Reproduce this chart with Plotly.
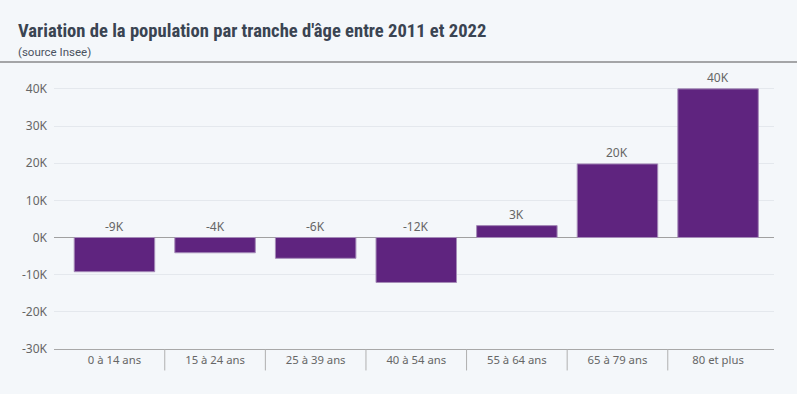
import plotly.graph_objects as go

categories = ["0 à 14 ans", "15 à 24 ans", "25 à 39 ans", "40 à 54 ans",
              "55 à 64 ans", "65 à 79 ans", "80 et plus"]
values = [-9200, -4100, -5600, -12100, 3200, 19800, 40000]
y_tickvals = [-30000, -20000, -10000, 0, 10000, 20000, 30000, 40000]
y_ticktext = ["-30K", "-20K", "-10K", "0K", "10K", "20K", "30K", "40K"]

BG = "#f4f7fa"
BAR = "#5f247f"
TXT = "#666666"
FONT = "Noto Sans"

fig = go.Figure()
fig.add_trace(go.Bar(
    x=list(range(len(categories))), y=values, width=0.8,
    marker=dict(color=BAR, line=dict(color="#a58bb8", width=1)),
    hoverinfo="skip",
))

for i, v in enumerate(values):
    fig.add_annotation(
        x=i, y=max(v, 0), xref="x", yref="y",
        text=f"{round(v/1000):d}K", showarrow=False,
        yanchor="bottom", yshift=1,
        font=dict(family=FONT, size=12, color=TXT),
    )

for i in range(len(categories) - 1):
    fig.add_shape(type="line", xref="x", yref="paper",
                  x0=i + 0.5, x1=i + 0.5, y0=0, y1=-0.078,
                  line=dict(color="#b0b0b0", width=1))

fig.add_shape(type="line", xref="paper", yref="paper",
              x0=-54/720, x1=1 + 23/720, y0=1 + 12/275, y1=1 + 12/275,
              line=dict(color="#555555", width=1.2))

fig.add_annotation(
    xref="paper", yref="paper", x=-38/720, y=1 + 30/275,
    xanchor="left", yanchor="bottom", showarrow=False,
    text="<b>Variation de la population par tranche d'âge entre 2011 et 2022</b>",
    font=dict(family="Liberation Sans Narrow, Roboto Condensed, Roboto", size=18.6, color="#3a4452"),
)
fig.add_annotation(
    xref="paper", yref="paper", x=-38/720, y=1 + 13/275,
    xanchor="left", yanchor="bottom", showarrow=False,
    text="(source Insee)",
    font=dict(family="Roboto", size=11.5, color="#4a5260"),
)

fig.update_layout(
    width=797, height=394,
    margin=dict(l=54, r=23, t=74, b=45),
    paper_bgcolor=BG, plot_bgcolor=BG,
    showlegend=False,
    bargap=0.2,
    xaxis=dict(
        range=[-0.601, 6.556], tickmode="array",
        tickvals=list(range(len(categories))), ticktext=categories,
        showgrid=False, zeroline=False,
        showline=True, linecolor="#a8a8a8", linewidth=1,
        ticks="", tickfont=dict(family=FONT, size=11.3, color=TXT),
        fixedrange=True,
    ),
    yaxis=dict(
        range=[-30000, 44000], tickmode="array",
        tickvals=y_tickvals, ticktext=y_ticktext,
        showgrid=True, gridcolor="#e4e8ed", gridwidth=1,
        zeroline=True, zerolinecolor="#a0a0a0", zerolinewidth=1,
        ticks="", ticklabelstandoff=6,
        tickfont=dict(family=FONT, size=12, color=TXT),
        fixedrange=True,
    ),
)

fig.write_html(
    "out.html",
    config={"displayModeBar": False},
    post_script="document.body.style.margin='0';document.body.style.overflow='hidden';document.body.style.background='#f4f7fa';",
)
